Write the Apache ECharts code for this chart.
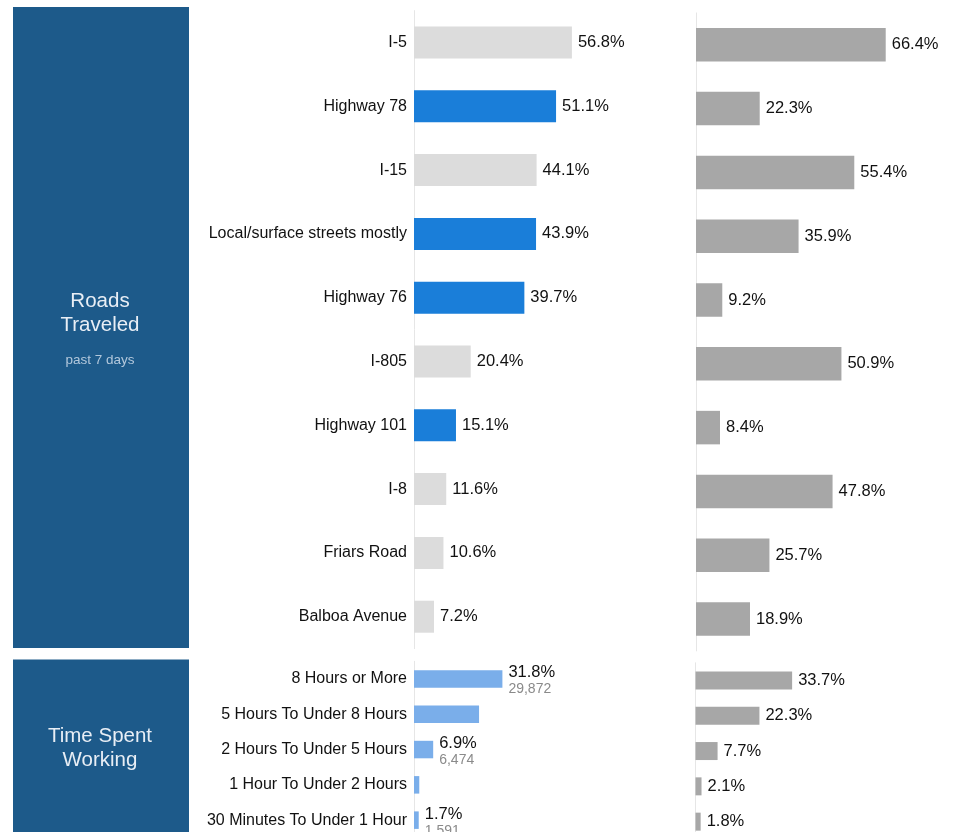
<!DOCTYPE html>
<html>
<head>
<meta charset="utf-8">
<title>Roads Traveled / Time Spent Working</title>
<script src="https://cdn.jsdelivr.net/npm/echarts@6/dist/echarts.min.js"></script>
<style>
	html, body {
		margin: 0;
		padding: 0;
		background: #fff;
	}

	#chart {
		width: 978px;
		height: 832px;
	}
</style>
</head>
<body>
<div id="chart"></div>
<script>
	// roads traveled, past 7 days
	var roadCats = ['I-5', 'Highway 78', 'I-15', 'Local/surface streets mostly', 'Highway 76',
		'I-805', 'Highway 101', 'I-8', 'Friars Road', 'Balboa Avenue'];
	var roadShare = [56.8, 51.1, 44.1, 43.9, 39.7, 20.4, 15.1, 11.6, 10.6, 7.2];
	var roadHighlighted = [false, true, false, true, true, false, true, false, false, false];
	var roadCompare = [66.4, 22.3, 55.4, 35.9, 9.2, 50.9, 8.4, 47.8, 25.7, 18.9];

	// time spent working
	var timeCats = ['8 Hours or More', '5 Hours To Under 8 Hours', '2 Hours To Under 5 Hours',
		'1 Hour To Under 2 Hours', '30 Minutes To Under 1 Hour'];
	var timeShare = [31.8, 23.4, 6.9, 1.9, 1.7];
	var timeCounts = [29872, null, 6474, null, 1591];
	var timeCompare = [33.7, 22.3, 7.7, 2.1, 1.8];

	var FONT = '"Liberation Sans", Arial, Helvetica, sans-serif';
	var PANEL = '#1d5a8a';

	function pct(v) {
		return v.toFixed(1) + '%';
	}

	var myChart = echarts.init(document.getElementById('chart'), null, {renderer: 'canvas'});

	// grids are allowed to run past the bottom edge, like the cropped original
	var grids = [
		{left: 414, top: 10.6, width: 278, height: 638, outerBoundsMode: 'none'},   // roads, left
		{left: 696, top: 12.9, width: 280, height: 638, outerBoundsMode: 'none'},   // roads, right
		{left: 414, top: 661.3, width: 278, height: 176.5, outerBoundsMode: 'none'},  // time, left
		{left: 695.5, top: 662.8, width: 281, height: 176.5, outerBoundsMode: 'none'} // time, right
	];

	var xAxes = [100, 98, 100, 98].map(function (m, i) {
		return {
			type: 'value', gridIndex: i, min: 0, max: m,
			show: false
		};
	});

	var yCats = [roadCats, roadCats, timeCats, timeCats];
	var yAxes = yCats.map(function (cats, i) {
		var first = (i % 2 === 0);
		return {
			type: 'category', gridIndex: i, data: cats, inverse: true,
			axisLine: {show: true, lineStyle: {color: '#e6e6e6', width: 1}},
			axisTick: {show: false},
			splitLine: {show: false},
			axisLabel: {
				show: first,
				margin: 7,
				color: '#111',
				fontFamily: FONT,
				fontSize: 16
			}
		};
	});

	var valueLabel = {
		show: true,
		position: 'right',
		distance: 6,
		color: '#111',
		fontFamily: FONT,
		fontSize: 16.5,
		formatter: function (p) { return pct(p.value); }
	};

	option = {
		animation: false,
		backgroundColor: '#fff',
		textStyle: {fontFamily: FONT},
		grid: grids,
		xAxis: xAxes,
		yAxis: yAxes,
		graphic: [
			{type: 'rect', shape: {x: 13, y: 7, width: 176, height: 641}, style: {fill: PANEL}},
			{type: 'rect', shape: {x: 13, y: 659.5, width: 176, height: 180}, style: {fill: PANEL}},
			{type: 'text', x: 100, y: 301.5, style: {text: 'Roads', fill: '#e8eef5', font: '20.5px ' + FONT, align: 'center', verticalAlign: 'middle'}},
			{type: 'text', x: 100, y: 325, style: {text: 'Traveled', fill: '#e8eef5', font: '20.5px ' + FONT, align: 'center', verticalAlign: 'middle'}},
			{type: 'text', x: 100, y: 360, style: {text: 'past 7 days', fill: '#b3c8dc', font: '13.5px ' + FONT, align: 'center', verticalAlign: 'middle'}},
			{type: 'text', x: 100, y: 736, style: {text: 'Time Spent', fill: '#e8eef5', font: '20.5px ' + FONT, align: 'center', verticalAlign: 'middle'}},
			{type: 'text', x: 100, y: 760, style: {text: 'Working', fill: '#e8eef5', font: '20.5px ' + FONT, align: 'center', verticalAlign: 'middle'}}
		],
		series: [
			{
				name: 'Roads traveled',
				type: 'bar',
				xAxisIndex: 0, yAxisIndex: 0,
				barWidth: 32,
				data: roadShare.map(function (v, i) {
					return {value: v, itemStyle: {color: roadHighlighted[i] ? '#1a7ed9' : '#dcdcdc'}};
				}),
				label: valueLabel
			},
			{
				name: 'Roads traveled (compare)',
				type: 'bar',
				xAxisIndex: 1, yAxisIndex: 1,
				barWidth: 33.5,
				itemStyle: {color: '#a7a7a7'},
				data: roadCompare,
				label: valueLabel
			},
			{
				name: 'Time spent working',
				type: 'bar',
				xAxisIndex: 2, yAxisIndex: 2,
				barWidth: 17.5,
				itemStyle: {color: '#7aaeea'},
				data: timeShare.map(function (v, i) {
					return {
						value: v,
						label: {show: timeCounts[i] !== null}
					};
				}),
				label: {
					show: true,
					position: 'right',
					distance: 6,
					offset: [0, 2],
					fontFamily: FONT,
					formatter: function (p) {
						var c = timeCounts[p.dataIndex];
						return '{p|' + pct(p.value) + '}\n{c|' + (c === null ? '' : c.toLocaleString('en-US')) + '}';
					},
					rich: {
						p: {fontFamily: FONT, fontSize: 16.5, color: '#111', lineHeight: 17},
						c: {fontFamily: FONT, fontSize: 14, color: '#8a8a8a', lineHeight: 16}
					}
				}
			},
			{
				name: 'Time spent working (compare)',
				type: 'bar',
				xAxisIndex: 3, yAxisIndex: 3,
				barWidth: 18,
				itemStyle: {color: '#a7a7a7'},
				data: timeCompare,
				label: valueLabel
			}
		]
	};

	myChart.setOption(option);
</script>
</body>
</html>
